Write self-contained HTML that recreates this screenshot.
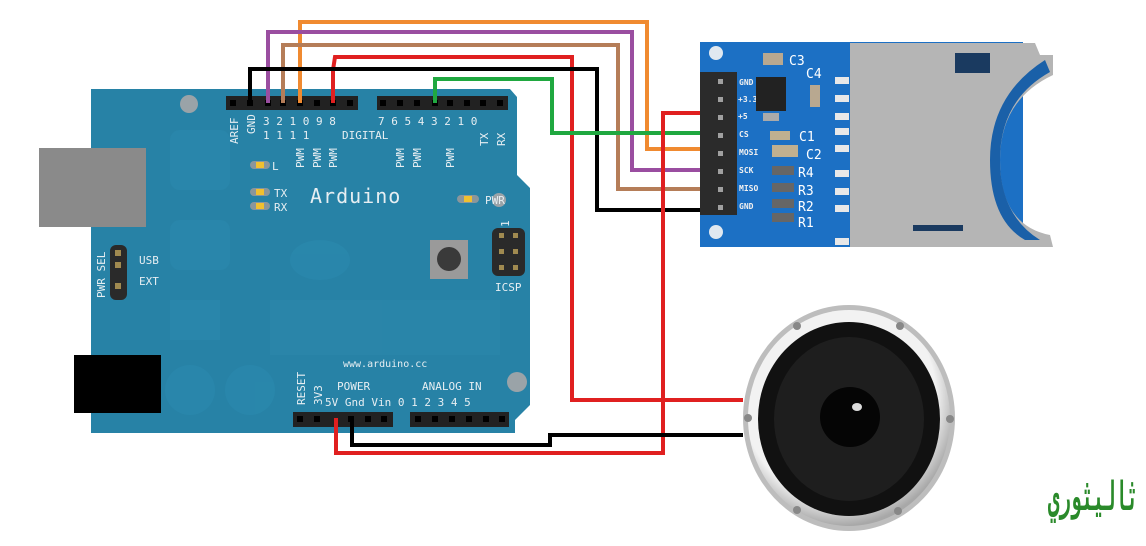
<!DOCTYPE html>
<html><head><meta charset="utf-8"><style>
html,body{margin:0;padding:0;background:#fff;}
svg{display:block}
text{font-family:"DejaVu Sans Mono","Liberation Mono",monospace;fill:#e6eef2;}
</style></head><body>
<svg width="1146" height="546" viewBox="0 0 1146 546" xmlns="http://www.w3.org/2000/svg">
<defs>
<radialGradient id="rim" cx="0.45" cy="0.4" r="0.6"><stop offset="0.8" stop-color="#f2f2f2"/><stop offset="1" stop-color="#a8a8a8"/></radialGradient>
</defs>
<!-- Arduino board -->
<path d="M91,89 L510,89 L517,97 L517,175 L530,188 L530,405 L515,420 L515,433 L91,433 Z" fill="#2782a6"/>
<g fill="#2a88ad" opacity="0.8">
<rect x="170" y="130" width="60" height="60" rx="10"/><rect x="170" y="220" width="60" height="50" rx="10"/>
<rect x="270" y="300" width="230" height="55" fill="#2b86aa"/>
<ellipse cx="320" cy="260" rx="30" ry="20"/><ellipse cx="250" cy="390" rx="25" ry="25"/>
<ellipse cx="190" cy="390" rx="25" ry="25"/><rect x="170" y="300" width="50" height="40"/>
</g>
<rect x="39" y="148" width="107" height="79" fill="#8a8a8a"/>
<rect x="74" y="355" width="87" height="58" fill="#000"/>
<circle cx="189" cy="104" r="9" fill="#9aa3a8"/>
<circle cx="517" cy="382" r="10" fill="#9aa3a8"/>
<circle cx="499" cy="200" r="7" fill="#9aa3a8"/>
<!-- headers -->
<rect x="226" y="96" width="132" height="14" fill="#222"/>
<rect x="377" y="96" width="131" height="14" fill="#222"/>
<rect x="293" y="412" width="100" height="15" fill="#222"/>
<rect x="410" y="412" width="99" height="15" fill="#222"/>
<g fill="#000">
<rect x="230" y="100" width="6" height="6"/><rect x="247" y="100" width="6" height="6"/><rect x="265" y="100" width="6" height="6"/><rect x="280" y="100" width="6" height="6"/><rect x="297" y="100" width="6" height="6"/><rect x="314" y="100" width="6" height="6"/><rect x="330" y="100" width="6" height="6"/><rect x="347" y="100" width="6" height="6"/>
<rect x="380" y="100" width="6" height="6"/><rect x="397" y="100" width="6" height="6"/><rect x="414" y="100" width="6" height="6"/><rect x="432" y="100" width="6" height="6"/><rect x="447" y="100" width="6" height="6"/><rect x="464" y="100" width="6" height="6"/><rect x="480" y="100" width="6" height="6"/><rect x="497" y="100" width="6" height="6"/>
<rect x="297" y="416" width="6" height="6"/><rect x="314" y="416" width="6" height="6"/><rect x="348" y="416" width="6" height="6"/><rect x="365" y="416" width="6" height="6"/><rect x="381" y="416" width="6" height="6"/>
<rect x="415" y="416" width="6" height="6"/><rect x="432" y="416" width="6" height="6"/><rect x="449" y="416" width="6" height="6"/><rect x="466" y="416" width="6" height="6"/><rect x="483" y="416" width="6" height="6"/><rect x="499" y="416" width="6" height="6"/>
</g>
<!-- labels -->
<g font-size="11">
<text transform="translate(238,144) rotate(-90)">AREF</text>
<text transform="translate(255,134) rotate(-90)">GND</text>
<text x="263" y="125">3 2 1 0 9 8</text>
<text x="263" y="139">1 1 1 1</text>
<text x="342" y="139">DIGITAL</text>
<text x="378" y="125">7 6 5 4 3 2 1 0</text>
<text transform="translate(304,168) rotate(-90)">PWM</text>
<text transform="translate(321,168) rotate(-90)">PWM</text>
<text transform="translate(337,168) rotate(-90)">PWM</text>
<text transform="translate(404,168) rotate(-90)">PWM</text>
<text transform="translate(421,168) rotate(-90)">PWM</text>
<text transform="translate(454,168) rotate(-90)">PWM</text>
<text transform="translate(488,146) rotate(-90)">TX</text>
<text transform="translate(505,146) rotate(-90)">RX</text>
<text x="272" y="170">L</text><text x="274" y="197">TX</text><text x="274" y="211">RX</text>
<text x="485" y="204">PWR</text>
<text x="139" y="264">USB</text><text x="139" y="285">EXT</text>
<text transform="translate(105,298) rotate(-90)">PWR SEL</text>
<text x="495" y="291">ICSP</text>
<text transform="translate(509,227) rotate(-90)">1</text>
<text x="343" y="367" font-size="10">www.arduino.cc</text>
<text transform="translate(305,405) rotate(-90)">RESET</text>
<text transform="translate(322,405) rotate(-90)">3V3</text>
<text x="337" y="390">POWER</text><text x="422" y="390">ANALOG IN</text>
<text x="325" y="406">5V Gnd Vin 0 1 2 3 4 5</text>
</g>
<text x="310" y="203" font-size="20" letter-spacing="1">Arduino</text>
<!-- LEDs -->
<g><rect x="250" y="161" width="20" height="8" rx="4" fill="#8a969c"/><rect x="256" y="162" width="8" height="6" fill="#f0c030"/>
<rect x="250" y="188" width="20" height="8" rx="4" fill="#8a969c"/><rect x="256" y="189" width="8" height="6" fill="#f0c030"/>
<rect x="250" y="202" width="20" height="8" rx="4" fill="#8a969c"/><rect x="256" y="203" width="8" height="6" fill="#f0c030"/>
<rect x="457" y="195" width="22" height="8" rx="4" fill="#8a969c"/><rect x="464" y="196" width="8" height="6" fill="#f0c030"/></g>
<rect x="110" y="245" width="17" height="55" rx="6" fill="#2a2a2a"/>
<rect x="115" y="250" width="6" height="6" fill="#a08a50"/><rect x="115" y="262" width="6" height="6" fill="#a08a50"/><rect x="115" y="283" width="6" height="6" fill="#a08a50"/>
<rect x="430" y="240" width="38" height="39" fill="#9a9a9a"/><circle cx="449" cy="259" r="12" fill="#3a3a3a"/>
<rect x="492" y="228" width="33" height="48" rx="6" fill="#2a2a2a"/>
<g fill="#a08a50"><rect x="499" y="233" width="5" height="5"/><rect x="513" y="233" width="5" height="5"/><rect x="499" y="249" width="5" height="5"/><rect x="513" y="249" width="5" height="5"/><rect x="499" y="265" width="5" height="5"/><rect x="513" y="265" width="5" height="5"/></g>

<!-- SD module -->
<rect x="700" y="42" width="323" height="205" fill="#1c70c4"/>
<circle cx="716" cy="53" r="7" fill="#e0e8f0"/><circle cx="716" cy="232" r="7" fill="#e0e8f0"/>
<path d="M850,43 L1035,43 L1040,55 L1053,55 L1053,75 Q1000,100 1000,160 Q1000,225 1050,235 L1053,247 L850,247 Z" fill="#b5b5b5"/>
<path d="M1045,60 Q990,95 990,160 Q990,220 1025,240 L1040,240 Q1000,215 1000,160 Q1000,100 1050,72 Z" fill="#1a60a8"/>
<rect x="913" y="225" width="50" height="6" fill="#1a3a60"/>
<g fill="#1a3a60"><rect x="955" y="53" width="35" height="20"/></g>
<g fill="#e8e8e8"><rect x="835" y="77" width="14" height="7"/><rect x="835" y="95" width="14" height="7"/><rect x="835" y="113" width="14" height="7"/><rect x="835" y="128" width="14" height="7"/><rect x="835" y="145" width="14" height="7"/><rect x="835" y="170" width="14" height="7"/><rect x="835" y="188" width="14" height="7"/><rect x="835" y="205" width="14" height="7"/><rect x="835" y="238" width="14" height="7"/></g>
<rect x="700" y="72" width="37" height="143" fill="#2b2b2b"/>
<g fill="#a0a0a0"><rect x="718" y="79" width="5" height="5"/><rect x="718" y="97" width="5" height="5"/><rect x="718" y="115" width="5" height="5"/><rect x="718" y="133" width="5" height="5"/><rect x="718" y="151" width="5" height="5"/><rect x="718" y="169" width="5" height="5"/><rect x="718" y="187" width="5" height="5"/><rect x="718" y="205" width="5" height="5"/></g>
<g font-family="Liberation Sans,sans-serif" font-weight="bold" font-size="8">
<text x="739" y="85" style="fill:#f0f0f0">GND</text><text x="738" y="102" style="fill:#f0f0f0">+3.3</text><text x="738" y="119" style="fill:#f0f0f0">+5</text>
<text x="739" y="137" style="fill:#f0f0f0">CS</text><text x="739" y="155" style="fill:#f0f0f0">MOSI</text><text x="739" y="173" style="fill:#f0f0f0">SCK</text>
<text x="739" y="191" style="fill:#f0f0f0">MISO</text><text x="739" y="209" style="fill:#f0f0f0">GND</text></g>
<rect x="756" y="77" width="30" height="34" fill="#222"/><rect x="763" y="113" width="16" height="8" fill="#aaa"/>
<rect x="763" y="53" width="20" height="12" fill="#b8a890"/>
<rect x="810" y="85" width="10" height="22" fill="#b8a890"/>
<g fill="#c0b090"><rect x="770" y="131" width="20" height="9"/><rect x="772" y="145" width="26" height="12"/></g>
<g fill="#666"><rect x="772" y="166" width="22" height="9"/><rect x="772" y="183" width="22" height="9"/><rect x="772" y="199" width="22" height="9"/><rect x="772" y="213" width="22" height="9"/></g>
<g font-family="Liberation Sans,sans-serif" font-size="13">
<text x="789" y="65" style="fill:#fff">C3</text><text x="806" y="78" style="fill:#fff">C4</text>
<text x="799" y="141" style="fill:#fff">C1</text><text x="806" y="159" style="fill:#fff">C2</text>
<text x="798" y="177" style="fill:#fff">R4</text><text x="798" y="195" style="fill:#fff">R3</text>
<text x="798" y="211" style="fill:#fff">R2</text><text x="798" y="227" style="fill:#fff">R1</text></g>

<!-- Speaker -->
<ellipse cx="849" cy="418" rx="106" ry="113" fill="#bdbdbd"/>
<ellipse cx="849" cy="418" rx="101" ry="108" fill="url(#rim)"/>
<ellipse cx="849" cy="419" rx="91" ry="97" fill="#111"/>
<ellipse cx="849" cy="419" rx="75" ry="82" fill="#1e1e1e"/>
<circle cx="850" cy="417" r="30" fill="#050505"/>
<ellipse cx="857" cy="407" rx="5" ry="4" fill="#ddd"/>
<g fill="#888"><circle cx="797" cy="326" r="4"/><circle cx="900" cy="326" r="4"/><circle cx="748" cy="418" r="4"/><circle cx="950" cy="419" r="4"/><circle cx="797" cy="510" r="4"/><circle cx="898" cy="511" r="4"/></g>

<!-- Wires -->
<g fill="none" stroke-width="4" stroke-linejoin="miter">
<polyline points="300,103 300,22 647,22 647,149 700,149" stroke="#f08a30"/>
<polyline points="268,103 268,32 632,32 632,170 700,170" stroke="#9a4ea0"/>
<polyline points="283,103 283,45 618,45 618,189 700,189" stroke="#b57d58"/>
<polyline points="333,103 333,70 335,57 572,57 572,400 743,400" stroke="#e02020"/>
<polyline points="250,105 250,69 597,69 597,210 700,210" stroke="#000"/>
<polyline points="435,103 435,79 552,79 552,133 700,133" stroke="#20a840"/>
<polyline points="700,113 663,113 663,453 336,453 336,418" stroke="#e02020"/>
<polyline points="352,418 352,445 550,445 550,435 743,435" stroke="#000"/>
</g>

<!-- logo -->
<text x="1093" y="510" text-anchor="middle" textLength="90" lengthAdjust="spacingAndGlyphs" font-family="DejaVu Sans,sans-serif" font-size="40" style="fill:#2a8a2a" font-weight="bold">ثاليثوري</text>
</svg>
</body></html>
